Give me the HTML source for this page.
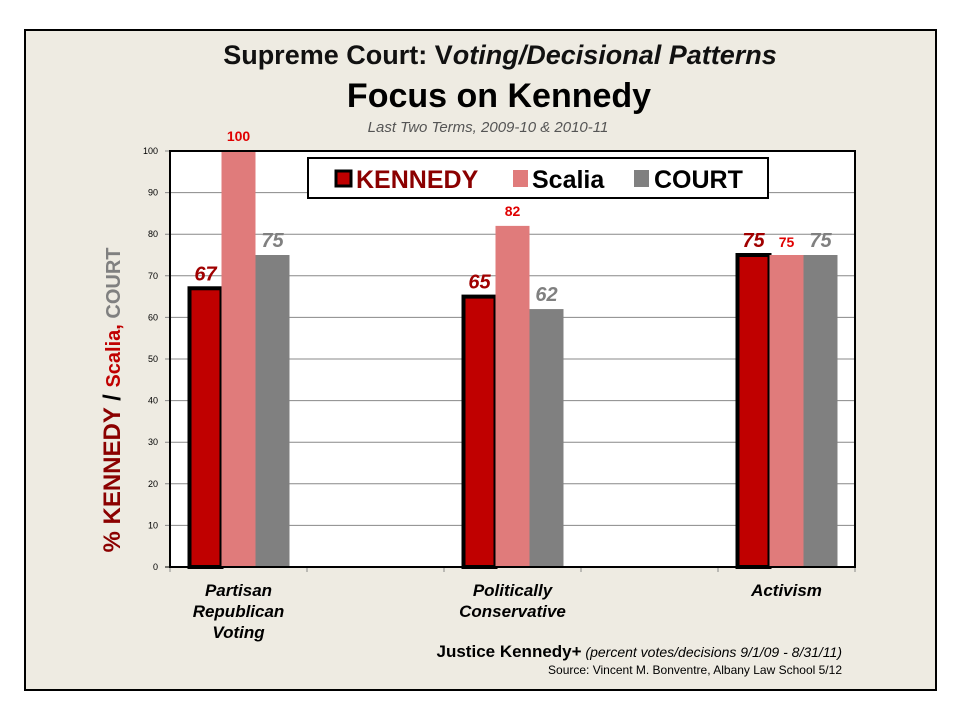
<!DOCTYPE html>
<html><head><meta charset="utf-8"><style>
body{margin:0;background:#fff;width:960px;height:720px;overflow:hidden;font-family:"Liberation Sans",sans-serif}
</style></head><body>
<svg width="960" height="720" xmlns="http://www.w3.org/2000/svg" font-family="Liberation Sans, sans-serif">
<rect x="25" y="30" width="911" height="660" fill="#eeebe2" stroke="#000" stroke-width="2"/>
<text x="500" y="64" text-anchor="middle" font-size="27" font-weight="bold" fill="#111">Supreme Court: V<tspan font-style="italic">oting/Decisional Patterns</tspan></text>
<text x="499" y="107" text-anchor="middle" font-size="34" font-weight="bold" fill="#000">Focus on Kennedy</text>
<text x="488" y="132" text-anchor="middle" font-size="15" font-style="italic" fill="#555">Last Two Terms, 2009-10 &amp; 2010-11</text>
<g id="plot"></g>
<text transform="translate(120,400) rotate(-90)" text-anchor="middle" font-size="24" font-weight="bold"><tspan fill="#8b0000">% KENNEDY</tspan><tspan fill="#000"> / </tspan><tspan fill="#c00000" font-size="20">Scalia, </tspan><tspan fill="#808080" font-size="20">COURT</tspan></text>
<g>
<rect x="308" y="158" width="460" height="40" fill="#fff" stroke="#000" stroke-width="2"/>
<rect x="336" y="171" width="15" height="15" fill="#c00000" stroke="#000" stroke-width="3"/>
<text x="356" y="188" font-size="25" font-weight="bold" fill="#8b0000">KENNEDY</text>
<rect x="513" y="170" width="15" height="17" fill="#e07b7b"/>
<text x="532" y="188" font-size="25" font-weight="bold" fill="#000">Scalia</text>
<rect x="634" y="170" width="15" height="17" fill="#808080"/>
<text x="654" y="188" font-size="25" font-weight="bold" fill="#000">COURT</text>
</g>
<text x="842" y="657" text-anchor="end" font-size="17"><tspan font-weight="bold">Justice Kennedy+</tspan><tspan font-style="italic" font-size="14"> (percent votes/decisions 9/1/09 - 8/31/11)</tspan></text>
<text x="842" y="674" text-anchor="end" font-size="12">Source: Vincent M. Bonventre, Albany Law School 5/12</text>
</svg>
<script>
const categories=["Partisan|Republican|Voting","","Politically|Conservative","","Activism"];
const kennedy=[67,null,65,null,75];
const scalia=[100,null,82,null,75];
const court=[75,null,62,null,75];
const yTicks=[0,10,20,30,40,50,60,70,80,90,100];
const NS="http://www.w3.org/2000/svg";
const L=170,R=855,T=151,B=567;
const band=(R-L)/categories.length;
const y=v=>B-(v/100)*(B-T);
const xc=i=>L+band*(i+0.5);
const g=document.getElementById('plot');
function mk(t,a,txt){const e=document.createElementNS(NS,t);for(const k in a)e.setAttribute(k,a[k]);if(txt!=null)e.textContent=txt;g.appendChild(e);return e;}
mk('rect',{x:L,y:T,width:R-L,height:B-T,fill:'#fff'});
yTicks.forEach(v=>{
 const ln=mk('line',{x1:L-5,x2:R,y1:y(v),y2:y(v),stroke:v==0?'#000':'#888','stroke-width':1});
 
 
 const t=mk('text',{x:L-12,y:y(v)+3,'text-anchor':'end','font-size':9,fill:'#000'},String(v));
 
 
});
for(let i=0;i<=categories.length;i++){mk('line',{x1:L+band*i,x2:L+band*i,y1:B,y2:B+5,stroke:'#888'});}
const W=34;
categories.forEach((c,i)=>{
 if(kennedy[i]==null)return;
 const cx=xc(i);
 const k=mk('rect',{x:cx-W*1.5+2,y:y(kennedy[i]),width:W-2,height:B-y(kennedy[i]),fill:'#c00000',stroke:'#000','stroke-width':4});
 
 
 const s=mk('rect',{x:cx-W/2,y:y(scalia[i]),width:W,height:B-y(scalia[i]),fill:'#e07b7b'});
 
 
 const co=mk('rect',{x:cx+W/2,y:y(court[i]),width:W,height:B-y(court[i]),fill:'#808080'});
 
 
 const kl=mk('text',{x:cx-W+1,y:y(kennedy[i])-8,'text-anchor':'middle','font-size':20,'font-weight':'bold','font-style':'italic',fill:'#a00000'},kennedy[i]);
 
 
 const sl=mk('text',{x:cx,y:(scalia[i]===kennedy[i]?y(scalia[i])-8:y(scalia[i])-10),'text-anchor':'middle','font-size':14,'font-weight':'bold',fill:'#e00000'},scalia[i]);
 
 
 const cl=mk('text',{x:cx+W,y:y(court[i])-8,'text-anchor':'middle','font-size':20,'font-weight':'bold','font-style':'italic',fill:'#808080'},court[i]);
 
 
 c.split('|').forEach((ln,j)=>{
  const t=mk('text',{x:cx,y:B+29+j*21,'text-anchor':'middle','font-size':17,'font-weight':'bold','font-style':'italic',fill:'#000'},ln);
  
  
 });
});
mk('rect',{x:L,y:T,width:R-L,height:B-T,fill:'none',stroke:'#000','stroke-width':2});
</script>
</body></html>
